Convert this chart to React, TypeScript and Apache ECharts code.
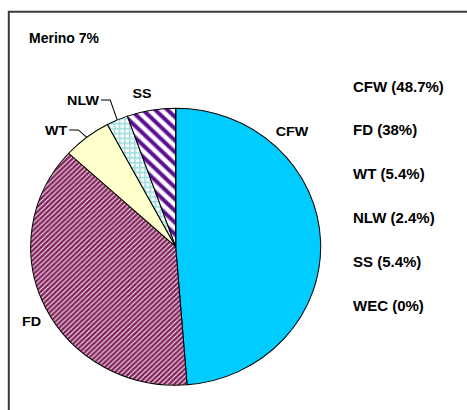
import React, { useEffect, useRef } from 'react';
import * as echarts from 'echarts';

// ---- data ----
const categories = ['CFW', 'FD', 'WT', 'NLW', 'SS', 'WEC'];
const shares = [48.7, 38, 5.4, 2.4, 5.4, 0];
const legendPercents = ['48.7', '38', '5.4', '2.4', '5.4', '0'];
const titleText = 'Merino 7%';

// ---- layout / style ----
const FONT = "'Liberation Sans', Arial, sans-serif";
const CX = 175.7;
const CY = 246.7;
const R = 141.7;
const SX = 145 / R;
const SY = 138.5 / R;
const LABEL_POS: Record<string, [number, number]> = {
  CFW: [292, 131],
  FD: [31.5, 321],
  WT: [56, 130],
  NLW: [83, 100],
  SS: [142, 93.5],
};
const LEADER = new Set(['WT', 'NLW']);

type RGB = [number, number, number];
function hex(h: string): RGB {
  const n = parseInt(h.slice(1), 16);
  return [(n >> 16) & 255, (n >> 8) & 255, n & 255];
}
function mix(a: RGB, b: RGB, t: number): RGB {
  return [0, 1, 2].map((i) => Math.round(a[i] * (1 - t) + b[i] * t)) as RGB;
}
function makeTile(w: number, h: number, fn: (x: number, y: number) => RGB) {
  const c = document.createElement('canvas');
  c.width = w;
  c.height = h;
  const ctx = c.getContext('2d')!;
  const img = ctx.createImageData(w, h);
  for (let y = 0; y < h; y++) {
    for (let x = 0; x < w; x++) {
      const [r, g, b] = fn(x, y);
      const k = (y * w + x) * 4;
      img.data[k] = r;
      img.data[k + 1] = g;
      img.data[k + 2] = b;
      img.data[k + 3] = 255;
    }
  }
  ctx.putImageData(img, 0, 0);
  return { image: c, repeat: 'repeat', imageWidth: w, imageHeight: h } as any;
}

function buildFills(): Record<string, any> {
  const white: RGB = [255, 255, 255];
  const maroon = hex('#7e1a55');
  const purple = hex('#5a0a8e');
  const teal = hex('#9edcdc');
  const fd = makeTile(5, 5, (x, y) => {
    const t = (x + y) % 5;
    const w = [0, 0, 0.3, 0.9, 0.3][t];
    return mix(maroon, white, w);
  });
  const ss = makeTile(12, 12, (x, y) => {
    const t = (((x - y) % 12) + 12) % 12;
    const w = [0, 0, 0, 0.1, 0.6, 1, 1, 1, 1, 1, 0.6, 0.1][t];
    return mix(purple, white, w);
  });
  const nlw = makeTile(5, 5, (x, y) => {
    if (x < 2 || y < 2) return x < 1 || y < 1 ? teal : mix(teal, white, 0.35);
    return white;
  });
  return {
    CFW: '#00ccff',
    FD: fd,
    WT: '#ffffcc',
    NLW: nlw,
    SS: ss,
    WEC: '#ffffff',
  };
}

// map a screen position into the (scaled) pie chart's own coordinates
function toPie(p: [number, number]): [number, number] {
  return [CX + (p[0] - CX) / SX, CY + (p[1] - CY) / SY];
}

export default function App() {
  const baseRef = useRef<HTMLDivElement>(null);
  const pieRef = useRef<HTMLDivElement>(null);
  useEffect(() => {
    if (!baseRef.current || !pieRef.current) return;
    const base = echarts.init(baseRef.current, undefined, { renderer: 'svg' });
    const pie = echarts.init(pieRef.current, undefined, { renderer: 'svg' });
    const fills = buildFills();

    base.setOption({
      animation: false,
      backgroundColor: '#ffffff',
      title: {
        text: titleText,
        left: 29,
        top: 30,
        padding: 0,
        textStyle: { color: '#000', fontWeight: 'bold', fontSize: 14, fontFamily: FONT, lineHeight: 15 },
      },
      legend: {
        orient: 'vertical',
        left: 348,
        top: 78.5,
        padding: 0,
        icon: 'none',
        itemWidth: 0,
        itemHeight: 15,
        itemGap: 28.8,
        selectedMode: false,
        data: categories,
        formatter: (name: string) => `${name} (${legendPercents[categories.indexOf(name)]}%)`,
        textStyle: { color: '#000', fontWeight: 'bold', fontSize: 15, fontFamily: FONT, lineHeight: 15 },
      },
      graphic: [
        {
          type: 'rect',
          silent: true,
          shape: { x: 8.8, y: 11.8, width: 480, height: 420 },
          style: { fill: 'none', stroke: '#3a3a3a', lineWidth: 2 },
        },
      ],
      series: [
        {
          // invisible carrier so the legend lists the categories
          type: 'pie',
          radius: 0,
          center: [-100, -100],
          silent: true,
          label: { show: false },
          labelLine: { show: false },
          itemStyle: { color: 'transparent' },
          data: categories.map((name, i) => ({ name, value: shares[i] })),
        },
      ],
    } as any);

    pie.setOption({
      animation: false,
      series: [
        {
          type: 'pie',
          center: [CX, CY],
          radius: R,
          startAngle: 90,
          clockwise: true,
          silent: true,
          avoidLabelOverlap: false,
          emphasis: { disabled: true },
          itemStyle: { borderColor: '#000', borderWidth: 1 },
          label: {
            position: 'outside',
            color: '#000',
            fontWeight: 'bold',
            fontSize: 14,
            fontFamily: FONT,
            formatter: '{b}',
          },
          labelLine: { show: false, length: 10, length2: 8, lineStyle: { color: '#000', width: 1 } },
          labelLayout: (p: any) => {
            const name = categories[p.dataIndex];
            const scr = LABEL_POS[name];
            if (!scr) return {};
            const pos = toPie(scr);
            const res: any = { x: pos[0], y: pos[1], align: 'center', verticalAlign: 'middle' };
            if (LEADER.has(name) && p.labelLinePoints && p.labelLinePoints[0]) {
              const edge = p.labelLinePoints[0];
              const right = pos[0] + p.labelRect.width / 2 + 2;
              res.labelLinePoints = [edge, [right + 9, pos[1]], [right, pos[1]]];
            }
            return res;
          },
          data: categories.map((name, i) => ({
            name,
            value: shares[i],
            itemStyle: { color: fills[name] },
            label: { show: shares[i] > 0 },
            labelLine: { show: LEADER.has(name) },
          })),
        },
      ],
    } as any);

    return () => {
      pie.dispose();
      base.dispose();
    };
  }, []);
  return (
    <div style={{ position: 'absolute', left: 0, top: 0, width: 467, height: 410 }}>
      <div
        ref={baseRef}
        style={{ position: 'absolute', left: 0, top: 0, width: 467, height: 410, background: '#fff' }}
      />
      <div
        ref={pieRef}
        style={{
          position: 'absolute',
          left: 0,
          top: 0,
          width: 467,
          height: 410,
          transform: `scale(${SX}, ${SY})`,
          transformOrigin: `${CX}px ${CY}px`,
        }}
      />
    </div>
  );
}
